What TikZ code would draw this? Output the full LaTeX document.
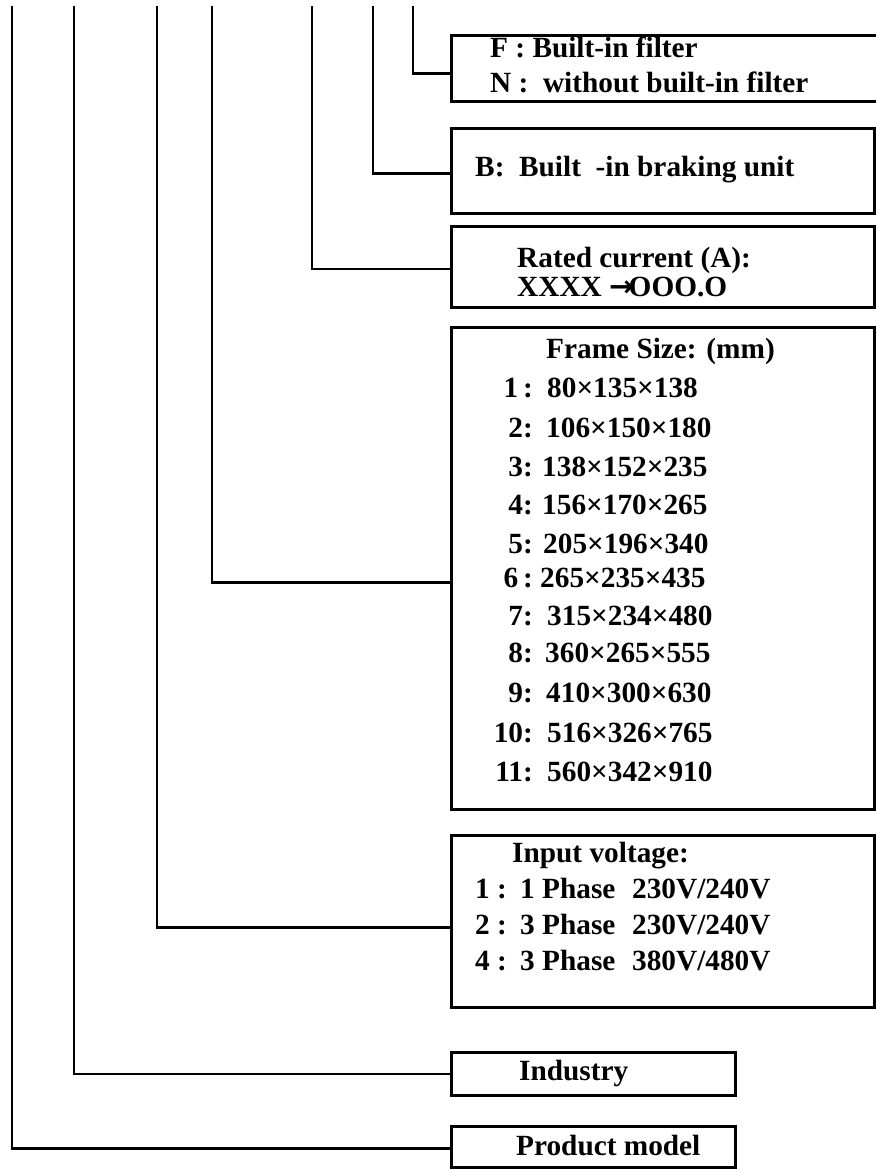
\documentclass[tikz,border=0pt]{standalone}
\usepackage{fontspec}
\setmainfont{Liberation Serif}
\newfontfamily\arrowfont{DejaVu Sans}
\begin{document}
\begin{tikzpicture}[x=1pt,y=-1pt]
\tikzset{
  lbl/.style={anchor=base west, inner sep=0pt, font=\bfseries\fontsize{29.3}{34}\selectfont},
  rlbl/.style={anchor=base east, inner sep=0pt, font=\bfseries\fontsize{29.3}{34}\selectfont},
  box/.style={draw, line width=2.8pt, anchor=north west, inner sep=0pt},
  wire/.style={line width=2.4pt}
}
\useasboundingbox (0,0) rectangle (875,1169);
\fill[white] (0,0) rectangle (875,1169);

% boxes
\node[box, minimum width=427pt, minimum height=66pt] (fbox) at (450,34) {};
\node[box, minimum width=423pt, minimum height=85pt] (bbox) at (450,127) {};
\node[box, minimum width=423pt, minimum height=81pt] (rbox) at (450,225) {};
\node[box, minimum width=423pt, minimum height=482pt] (sbox) at (450,326) {};
\node[box, minimum width=423pt, minimum height=172pt] (vbox) at (450,834) {};
\node[box, minimum width=284pt, minimum height=43pt] (ibox) at (450,1051) {};
\node[box, minimum width=284pt, minimum height=41pt] (pbox) at (450,1125) {};

% tops of the vertical lines
\coordinate (v1) at (12,6);
\coordinate (v2) at (74,6);
\coordinate (v3) at (157,6);
\coordinate (v4) at (212,6);
\coordinate (v5) at (312,6);
\coordinate (v6) at (373,6);
\coordinate (v7) at (413,6);

% connectors
\draw[wire] (v7) |- ([yshift=-5pt]fbox.west);
\draw[wire] (v6) |- ([yshift=-2.5pt]bbox.west);
\draw[wire] (v5) |- ([yshift=-2pt]rbox.west);
\draw[wire] (v4) |- ([yshift=-14pt]sbox.west);
\draw[wire] (v3) |- ([yshift=-6pt]vbox.west);
\draw[wire] (v2) |- (ibox.west);
\draw[wire] (v1) |- ([yshift=-1.5pt]pbox.west);

% filter box
\node[lbl] (f1) at (490,58) {F : Built-in filter};
\node[lbl] (f2) at (490,93) {N :\ \ without built-in filter};
% braking
\node[lbl] (b1) at (475,177) {B:\ \ Built\ \ -in braking unit};
% rated current
\node[lbl] (r1) at (517,267) {Rated current (A):};
\node[lbl] (r2) at (517,296) {XXXX {\arrowfont\bfseries →}\kern-5pt OOO.O};
% frame size
\node[lbl] (s0) at (546,358) {Frame Size: (mm)};
\foreach \n/\lab/\val/\vx/\yy in {1/1\,:/80×135×138/547/397,
  2/2:/106×150×180/546/437,
  3/3:/138×152×235/542/476,
  4/4:/156×170×265/542/514,
  5/5:/205×196×340/543/553,
  6/6\,:/265×235×435/540/587,
  7/7:/315×234×480/547/625,
  8/8:/360×265×555/545/662,
  9/9:/410×300×630/546/702,
  10/10:/516×326×765/547/742,
  11/11:/560×342×910/547/781}{
  \node[rlbl] (sl\n) at (533,\yy) {\lab};
  \node[lbl] (sv\n) at (\vx,\yy) {\val};
}
% input voltage
\node[lbl] (i0) at (512,862) {Input voltage:};
\node[lbl] (i1) at (475,898) {\makebox[45pt][l]{1 :}\makebox[112pt][l]{1 Phase}230V/240V};
\node[lbl] (i2) at (475,934) {\makebox[45pt][l]{2 :}\makebox[112pt][l]{3 Phase}230V/240V};
\node[lbl] (i3) at (475,970) {\makebox[45pt][l]{4 :}\makebox[112pt][l]{3 Phase}380V/480V};
% industry / product
\node[lbl] (t1) at (519,1080) {Industry};
\node[lbl] (t2) at (516,1155) {Product model};
\end{tikzpicture}
\end{document}
